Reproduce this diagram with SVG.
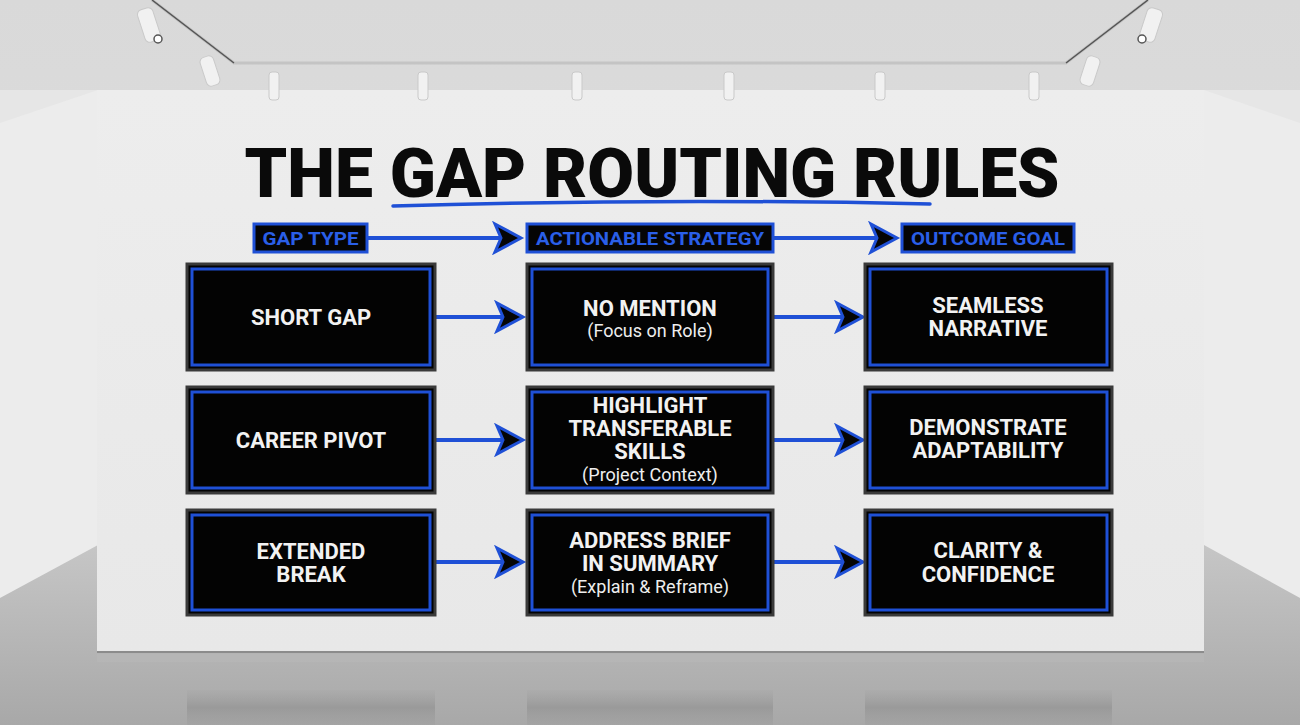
<svg xmlns="http://www.w3.org/2000/svg" width="1300" height="725" viewBox="0 0 1300 725">
<defs>
<style>
.box{fill:#030303;stroke:#3a3a3a;stroke-width:3}
.inner{fill:none;stroke:#1f50d6;stroke-width:3}
.hbox{fill:#050505;stroke:#1f50d6;stroke-width:3}
.t{font-family:Roboto,"Liberation Sans",sans-serif;font-weight:700;font-size:22px;fill:#f2f2f2;text-anchor:middle}
.s{font-family:Roboto,"Liberation Sans",sans-serif;font-weight:400;font-size:18px;fill:#eeeeee;text-anchor:middle}
.h{font-family:Roboto,"Liberation Sans",sans-serif;font-weight:700;font-size:18px;fill:#2a5fe8;text-anchor:middle}
.c{fill:none;stroke:#1f50d6;stroke-width:4}
.lamp{fill:#f1f1f1;stroke:#c9c9c9;stroke-width:1}
</style>
<marker id="ah" markerUnits="userSpaceOnUse" markerWidth="34" markerHeight="34" viewBox="0 0 34 34" refX="28" refY="17" orient="auto">
<path d="M3,3 L29,17 L3,31 L9,17 Z" fill="#050505" stroke="#1f50d6" stroke-width="3" stroke-linejoin="miter"/>
</marker>
<linearGradient id="ceil" x1="0" y1="0" x2="0" y2="1">
<stop offset="0" stop-color="#d9d9d9"/><stop offset="1" stop-color="#e3e3e3"/>
</linearGradient>
<linearGradient id="floor" x1="0" y1="0" x2="0" y2="1">
<stop offset="0" stop-color="#c6c6c6"/><stop offset="1" stop-color="#a8a8a8"/>
</linearGradient>
<linearGradient id="wall" x1="0" y1="0" x2="0" y2="1">
<stop offset="0" stop-color="#ededed"/><stop offset="1" stop-color="#e8e8e8"/>
</linearGradient>
<linearGradient id="refl" x1="0" y1="0" x2="0" y2="1">
<stop offset="0" stop-color="#8a8a8a" stop-opacity="0.05"/><stop offset="0.5" stop-color="#7a7a7a" stop-opacity="0.35"/><stop offset="1" stop-color="#8a8a8a" stop-opacity="0.15"/>
</linearGradient>
</defs>

<!-- room -->
<rect x="0" y="0" width="1300" height="725" fill="url(#ceil)"/>
<rect x="0" y="90" width="1300" height="520" fill="#e6e6e6"/>
<polygon points="0,123 98,90 98,560 0,598" fill="#ececec"/>
<polygon points="1300,123 1204,90 1204,560 1300,598" fill="#ececec"/>
<polygon points="0,598 98,545 1204,545 1300,598 1300,725 0,725" fill="url(#floor)"/>
<rect x="97" y="90" width="1107" height="562" fill="url(#wall)"/>
<line x1="97" y1="652" x2="1204" y2="652" stroke="#8c8c8c" stroke-width="2"/>
<rect x="97" y="654" width="1107" height="8" fill="#b8b8b8" opacity="0.6"/>
<rect x="187" y="690" width="248" height="35" fill="url(#refl)"/>
<rect x="527" y="690" width="246" height="35" fill="url(#refl)"/>
<rect x="865" y="690" width="247" height="35" fill="url(#refl)"/>

<!-- track lights -->
<path d="M152,0 L234,63 L1066,63 L1148,0" fill="none" stroke="#c4c4c4" stroke-width="3"/>
<path d="M152,0 L234,63 M1066,63 L1148,0" fill="none" stroke="#555" stroke-width="1.5"/>
<g>
<rect x="269" y="72" width="10" height="28" rx="3" class="lamp"/>
<rect x="418" y="72" width="10" height="28" rx="3" class="lamp"/>
<rect x="572" y="72" width="10" height="28" rx="3" class="lamp"/>
<rect x="724" y="72" width="10" height="28" rx="3" class="lamp"/>
<rect x="875" y="72" width="10" height="28" rx="3" class="lamp"/>
<rect x="1029" y="72" width="10" height="28" rx="3" class="lamp"/>
<rect x="141" y="8" width="16" height="34" rx="5" class="lamp" transform="rotate(-18 149 25)"/>
<circle cx="158" cy="39" r="4" fill="#fff" stroke="#555" stroke-width="1.5"/>
<rect x="203" y="56" width="14" height="30" rx="5" class="lamp" transform="rotate(-18 210 71)"/>
<rect x="1143" y="8" width="16" height="34" rx="5" class="lamp" transform="rotate(18 1151 25)"/>
<circle cx="1142" cy="39" r="4" fill="#fff" stroke="#555" stroke-width="1.5"/>
<rect x="1083" y="56" width="14" height="30" rx="5" class="lamp" transform="rotate(18 1090 71)"/>
</g>

<!-- title -->
<text x="652" y="197" font-family="Roboto,'Liberation Sans',sans-serif" font-weight="900" font-size="69" fill="#0a0a0a" text-anchor="middle" textLength="815" lengthAdjust="spacingAndGlyphs">THE GAP ROUTING RULES</text>
<path d="M393,206 Q660,198 930,204" fill="none" stroke="#1f50d6" stroke-width="3.5" stroke-linecap="round"/>

<!-- connectors -->
<g id="connectors">
<path class="c" d="M367,238 L520,238" marker-end="url(#ah)"/>
<path class="c" d="M773,238 L896,238" marker-end="url(#ah)"/>
<path class="c" d="M435,317 L522,317" marker-end="url(#ah)"/>
<path class="c" d="M773,317 L862,317" marker-end="url(#ah)"/>
<path class="c" d="M435,440 L522,440" marker-end="url(#ah)"/>
<path class="c" d="M773,440 L862,440" marker-end="url(#ah)"/>
<path class="c" d="M435,562 L522,562" marker-end="url(#ah)"/>
<path class="c" d="M773,562 L862,562" marker-end="url(#ah)"/>
</g>

<!-- headers -->
<g id="h-gap-type"><rect class="hbox" x="254" y="224" width="113" height="28"/><text class="h" x="310.5" y="245" textLength="96" lengthAdjust="spacingAndGlyphs">GAP TYPE</text></g>
<g id="h-strategy"><rect class="hbox" x="527" y="224" width="246" height="28"/><text class="h" x="650" y="245" textLength="228" lengthAdjust="spacingAndGlyphs">ACTIONABLE STRATEGY</text></g>
<g id="h-outcome"><rect class="hbox" x="902" y="224" width="172" height="28"/><text class="h" x="988" y="245" textLength="154" lengthAdjust="spacingAndGlyphs">OUTCOME GOAL</text></g>

<!-- row 1 -->
<g id="short-gap"><rect class="box" x="187" y="264" width="248" height="106"/><rect class="inner" x="192" y="269" width="238" height="96"/><text class="t" x="311" y="325">SHORT GAP</text></g>
<g id="no-mention"><rect class="box" x="527" y="264" width="246" height="106"/><rect class="inner" x="532" y="269" width="236" height="96"/><text class="t" x="650" y="316">NO MENTION</text><text class="s" x="650" y="337">(Focus on Role)</text></g>
<g id="seamless"><rect class="box" x="865" y="264" width="247" height="106"/><rect class="inner" x="870" y="269" width="237" height="96"/><text class="t" x="988" y="313">SEAMLESS</text><text class="t" x="988" y="336">NARRATIVE</text></g>

<!-- row 2 -->
<g id="career-pivot"><rect class="box" x="187" y="387" width="248" height="106"/><rect class="inner" x="192" y="392" width="238" height="96"/><text class="t" x="311" y="448">CAREER PIVOT</text></g>
<g id="highlight"><rect class="box" x="527" y="387" width="246" height="106"/><rect class="inner" x="532" y="392" width="236" height="96"/><text class="t" x="650" y="413">HIGHLIGHT</text><text class="t" x="650" y="436">TRANSFERABLE</text><text class="t" x="650" y="459">SKILLS</text><text class="s" x="650" y="481">(Project Context)</text></g>
<g id="demonstrate"><rect class="box" x="865" y="387" width="247" height="106"/><rect class="inner" x="870" y="392" width="237" height="96"/><text class="t" x="988" y="435">DEMONSTRATE</text><text class="t" x="988" y="458">ADAPTABILITY</text></g>

<!-- row 3 -->
<g id="extended-break"><rect class="box" x="187" y="510" width="248" height="105"/><rect class="inner" x="192" y="515" width="238" height="95"/><text class="t" x="311" y="559">EXTENDED</text><text class="t" x="311" y="582">BREAK</text></g>
<g id="address-brief"><rect class="box" x="527" y="510" width="246" height="105"/><rect class="inner" x="532" y="515" width="236" height="95"/><text class="t" x="650" y="548">ADDRESS BRIEF</text><text class="t" x="650" y="571">IN SUMMARY</text><text class="s" x="650" y="593">(Explain &amp; Reframe)</text></g>
<g id="clarity"><rect class="box" x="865" y="510" width="247" height="105"/><rect class="inner" x="870" y="515" width="237" height="95"/><text class="t" x="988" y="558">CLARITY &amp;</text><text class="t" x="988" y="582">CONFIDENCE</text></g>
</svg>
